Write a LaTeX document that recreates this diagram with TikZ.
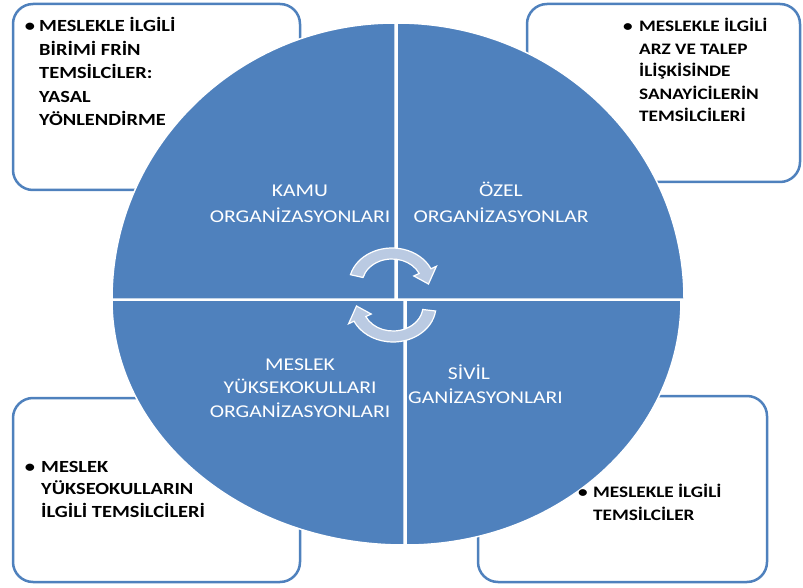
\documentclass[tikz,border=0pt]{standalone}
\usepackage{fontspec}
\setmainfont{Carlito}[FakeStretch=1.2]
\definecolor{qblue}{HTML}{4F81BD}
\definecolor{arrowfill}{HTML}{BACAE2}
\begin{document}
\begin{tikzpicture}[x=1pt,y=-1pt,
  boxframe/.style={draw=qblue, line width=2.5pt, fill=white, rounded corners=20pt},
  quad/.style={fill=qblue, draw=white, line width=1.5pt},
  cyclearrow/.style={fill=arrowfill, draw=white, line width=1.2pt},
  boxtext/.style={inner sep=0pt, anchor=base west, font=\fontsize{17}{23.5}\selectfont\bfseries},
  bullettext/.style={inner sep=0pt, anchor=base, font=\fontsize{17}{23.5}\selectfont\bfseries},
  quadtext/.style={inner sep=0pt, anchor=base, text=white, font=\fontsize{18}{25}\selectfont}
]
\useasboundingbox (0,0) rectangle (803,588);
% boxes
\path[boxframe] (13,4) rectangle (300,190);
\path[boxframe] (527,4) rectangle (800,182);
\path[boxframe] (13,398) rectangle (300,582);
\path[boxframe] (478,396) rectangle (767,582);
% quadrants
\path[quad] (395,299) -- (112,299) arc[start angle=180,end angle=270,x radius=283,y radius=276] -- cycle;
\path[quad] (397,299) -- (397,23) arc[start angle=270,end angle=360,x radius=287,y radius=276] -- cycle;
\path[quad] (406,300) -- (681,300) arc[start angle=0,end angle=90,x radius=275,y radius=245] -- cycle;
\path[quad] (404,300) -- (404,545) arc[start angle=90,end angle=180,x radius=292,y radius=245] -- cycle;
% cycle arrows
\path[cyclearrow, shift={(392,284)}] (195:43 and 36) arc[start angle=195,end angle=335,x radius=43,y radius=36]
  -- (335:49 and 42) -- (360:36.5 and 30.5) -- (335:24 and 19) -- (335:30 and 25)
  arc[start angle=335,end angle=195,x radius=30,y radius=25] -- cycle;
\path[cyclearrow, shift={(393,306)}] (8:43 and 36) arc[start angle=8,end angle=155,x radius=43,y radius=36]
  -- (155:49 and 42) -- (180:36.5 and 30.5) -- (155:24 and 19) -- (155:30 and 25)
  arc[start angle=155,end angle=8,x radius=30,y radius=25] -- cycle;
% quadrant labels
\node[quadtext] (kamu) at (300,197) {\begin{tabular}[t]{@{}c@{}}KAMU\\ORGANİZASYONLARI\end{tabular}};
\node[quadtext] (ozel) at (501,197) {\begin{tabular}[t]{@{}c@{}}ÖZEL\\ORGANİZASYONLAR\end{tabular}};
\node[quadtext, font=\fontsize{18}{23.5}\selectfont] (meslek) at (300,370) {\begin{tabular}[t]{@{}c@{}}MESLEK\\YÜKSEKOKULLARI\\ORGANİZASYONLARI\end{tabular}};
\node[quadtext] (sivil) at (469,379) {SİVİL};
\node[quadtext, anchor=base west] (sivilorg) at (408,403) {GANİZASYONLARI};
% box texts
\node[bullettext] (tlb) at (30,32) {•};
\node[boxtext] (tlt) at (39,32) {\begin{tabular}[t]{@{}l@{}}MESLEKLE İLGİLİ\\BİRİMİ FRİN\\TEMSİLCİLER:\\YASAL\\YÖNLENDİRME\end{tabular}};
\node[bullettext, font=\fontsize{16}{22.5}\selectfont\bfseries] (trb) at (628,32) {•};
\node[boxtext, font=\fontsize{16}{22.5}\selectfont\bfseries] (trt) at (639,32) {\begin{tabular}[t]{@{}l@{}}MESLEKLE İLGİLİ\\ARZ VE TALEP\\İLİŞKİSİNDE\\SANAYİCİLERİN\\TEMSİLCİLERİ\end{tabular}};
\node[bullettext, font=\fontsize{17}{22.7}\selectfont\bfseries] (blb) at (30,472) {•};
\node[boxtext, font=\fontsize{17}{22.7}\selectfont\bfseries] (blt) at (41,472) {\begin{tabular}[t]{@{}l@{}}MESLEK\\YÜKSEOKULLARIN\\İLGİLİ TEMSİLCİLERİ\end{tabular}};
\node[bullettext, font=\fontsize{16}{23}\selectfont\bfseries] (brb) at (583,497) {•};
\node[boxtext, font=\fontsize{16}{23}\selectfont\bfseries] (brt) at (593,497) {\begin{tabular}[t]{@{}l@{}}MESLEKLE İLGİLİ\\TEMSİLCİLER\end{tabular}};
\end{tikzpicture}
\end{document}
